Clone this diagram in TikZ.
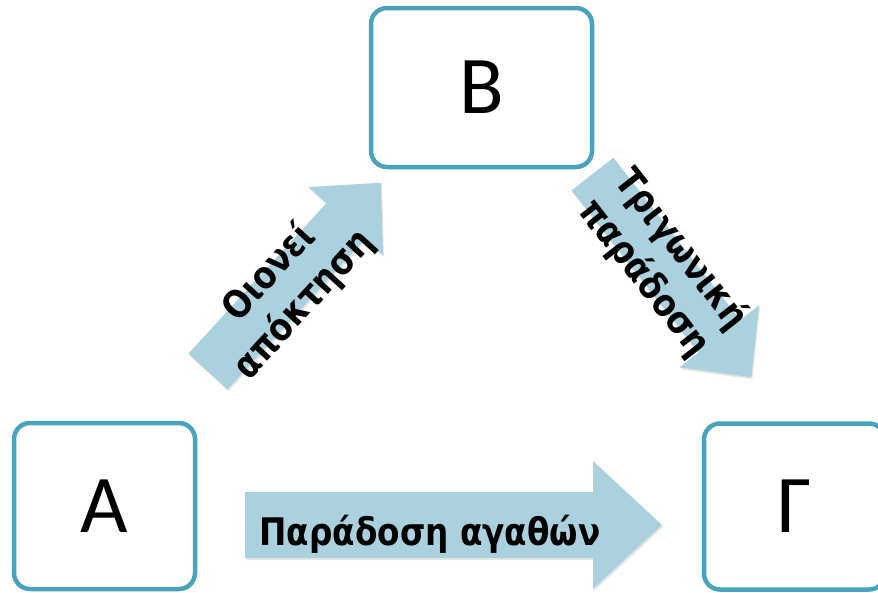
\documentclass[tikz,border=0pt]{standalone}
\usepackage{fontspec}
\usepackage{tikz}
\usetikzlibrary{shadows,positioning}
\setmainfont{Carlito}
\newfontfamily\flowfont{DejaVu Sans}[FakeStretch=0.86]
\definecolor{boxteal}{RGB}{74,163,189}
\definecolor{flowblue}{RGB}{172,209,222}
\tikzset{
    box/.style={draw=boxteal, line width=4.5pt, rounded corners=16pt, fill=white,
        font=\fontsize{82}{90}\selectfont,
        drop shadow={shadow xshift=1pt, shadow yshift=-2pt, opacity=0.25}},
    flow/.style={fill=flowblue,
        drop shadow={shadow xshift=1pt, shadow yshift=-2pt, opacity=0.2}},
    flowtext/.style={font=\flowfont\bfseries\fontsize{38}{47}\selectfont,
        align=center, inner sep=0pt}
}

\begin{document}
\begin{tikzpicture}[x=1pt, y=-1pt]
    \useasboundingbox (0,0) rectangle (878,592);
    \coordinate (acqtail) at (208,371.5);
    \coordinate (tritail) at (592.5,174);
    \coordinate (goodstail) at (245,525);
    \begin{scope}[shift={(acqtail)}, rotate=47.5, transform shape]
        \fill[flow] (0,-26.5) -- (204,-26.5) -- (204,-50.5) -- (256,0)
            -- (204,50.5) -- (204,26.5) -- (0,26.5) -- cycle;
        \node[flowtext] (acq) at (114,2) {Οιονεί\\απόκτηση};
    \end{scope}
    \begin{scope}[shift={(tritail)}, rotate=-52, transform shape]
        \fill[flow] (0,-26.5) -- (206,-26.5) -- (206,-50.5) -- (258,0)
            -- (206,50.5) -- (206,26.5) -- (0,26.5) -- cycle;
        \node[flowtext] (tri) at (114,0) {Τριγωνική\\παράδοση};
    \end{scope}
    \begin{scope}[shift={(goodstail)}]
        \fill[flow] (0,-33) -- (348,-33) -- (348,-64) -- (417,0)
            -- (348,64) -- (348,33) -- (0,33) -- cycle;
    \end{scope}
    \node[flowtext, anchor=base] (goods) at (430,545) {Παράδοση αγαθών};
    \node[box, minimum width=221pt, minimum height=159pt] (B) at (481.5,87.5) {B};
    \node[box, minimum width=181pt, minimum height=166pt] (A) at (104.5,506) {A};
    \node[box, minimum width=181pt, minimum height=166pt] (G) at (794.5,506.5) {Γ};
\end{tikzpicture}
\end{document}
